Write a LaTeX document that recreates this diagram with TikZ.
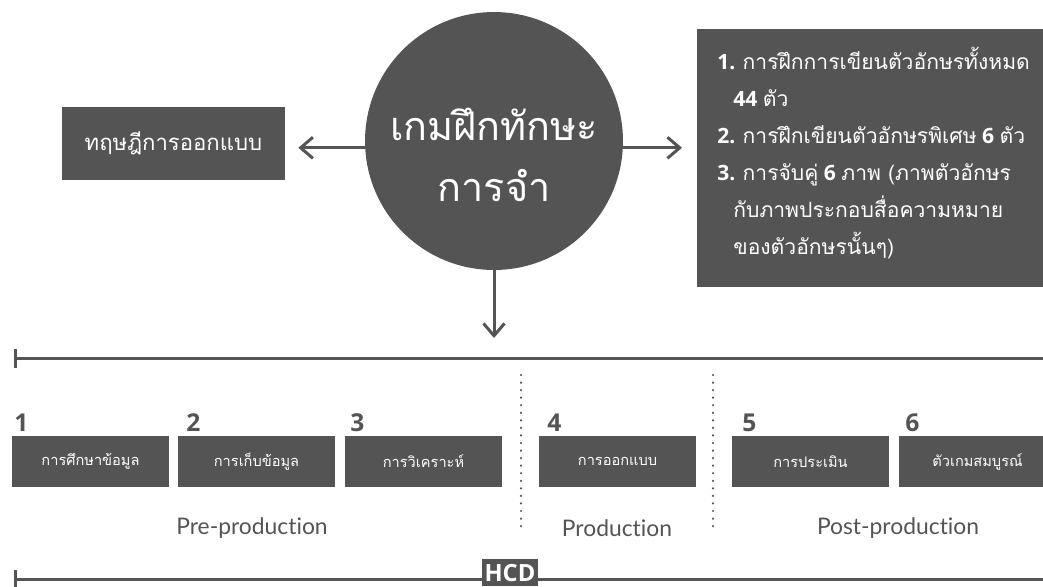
\documentclass[tikz,border=0pt]{standalone}
\usepackage{fontspec}
\setmainfont{Open Sans}
\newfontfamily\thai[Script=Thai]{Loma}
\newfontfamily\lato[Ligatures=NoCommon]{Lato}
\usetikzlibrary{arrows.meta}
\definecolor{darkgrey}{HTML}{545454}

\tikzset{
  box/.style={fill=darkgrey, text=white, inner sep=0pt},
  stepbox/.style={box, minimum width=3.14cm, minimum height=1.02cm, font=\thai\fontsize{8.3}{10}\selectfont},
  num/.style={text=darkgrey, inner sep=0pt, anchor=base west, font=\bfseries\fontsize{14}{16}\selectfont},
  phase/.style={text=darkgrey, font=\lato\fontsize{13}{15}\selectfont},
  arr/.style={draw=darkgrey, line width=1.7pt, line cap=round, -{Straight Barb[length=7pt,width=12pt]}},
  timeline/.style={draw=darkgrey, line width=1.7pt, {Bar[width=0.38cm]}-},
  dots/.style={draw=darkgrey, line width=1.4pt, line cap=round, dash pattern=on 0pt off 4.3pt}
}

\begin{document}
\begin{tikzpicture}[x=0.02cm, y=-0.02cm]
        \useasboundingbox (0,0) rectangle (1043,586);

        \node[circle, fill=darkgrey, minimum size=5.16cm, inner sep=0pt] (game) at (494,141) {};
        \node[text=white, align=center, font=\thai\fontsize{22.5}{35}\selectfont] (gametitle) at (494,155) {เกมฝึกทักษะ\\การจำ};
        \node[box, minimum width=4.46cm, minimum height=1.46cm, font=\thai\fontsize{12.6}{15}\selectfont] (theory) at (173.5,143.5) {ทฤษฎีการออกแบบ};
        \node[box, minimum width=7.3cm, minimum height=5.16cm, anchor=north west] (goals) at (697,29) {};
        \node[text=white, inner sep=0pt, anchor=north west, align=left, font=\fontsize{12}{21}\selectfont] (goaltext) at (717,47) {%
          \textbf{1.} {\thai การฝึกการเขียนตัวอักษรทั้งหมด}\\
          \hspace*{0.32cm}\textbf{44} {\thai ตัว}\\
          \textbf{2.} {\thai การฝึกเขียนตัวอักษรพิเศษ} \textbf{6} {\thai ตัว}\\
          \textbf{3.} {\thai การจับคู่} \textbf{6} {\thai ภาพ (ภาพตัวอักษร}\\
          \hspace*{0.32cm}{\thai กับภาพประกอบสื่อความหมาย}\\
          \hspace*{0.32cm}{\thai ของตัวอักษรนั้นๆ)}};

        \coordinate (top1) at (14,358);
        \coordinate (top2) at (1043,358);
        \coordinate (bot1) at (14,579);
        \coordinate (bot2) at (1043,579);

        \draw[arr, shorten >=0.26cm] (game.183) -- (theory.east |- game.183);
        \draw[arr, shorten >=0.3cm] (game.-3) -- (goals.west |- game.-3);
        \draw[arr, shorten >=0.4cm] (game.south) -- (game.south |- top1);

        \draw[timeline] (top1) -- (top2);
        \draw[timeline] (bot1) -- (bot2);
        \node[box, minimum width=1.12cm, minimum height=0.54cm, text depth=0pt, anchor=north, font=\bfseries\fontsize{13.5}{15}\selectfont] (hcd) at (510,559) {HCD};

        \node[stepbox] (s1) at (90.5,461.5) {การศึกษาข้อมูล};
        \node[stepbox] (s2) at (256.5,461.5) {การเก็บข้อมูล};
        \node[stepbox] (s3) at (423.5,461.5) {การวิเคราะห์};
        \node[stepbox] (s4) at (617.5,461.5) {การออกแบบ};
        \node[stepbox] (s5) at (810.5,461.5) {การประเมิน};
        \node[stepbox] (s6) at (977.5,461.5) {ตัวเกมสมบูรณ์};

        \node[num] (n1) at (14,431) {1};
        \node[num] (n2) at (186,431) {2};
        \node[num] (n3) at (350,431) {3};
        \node[num] (n4) at (547,431) {4};
        \node[num] (n5) at (742,431) {5};
        \node[num] (n6) at (905,431) {6};

        \draw[dots] (521,375) -- (521,530);
        \draw[dots] (713,375) -- (713,530);

        \node[phase] (pre) at (252,528) {Pre-production};
        \node[phase] (prod) at (617,528) {Production};
        \node[phase] (post) at (898,528) {Post-production};
        % \node[phase] (hcdtext) at (510,600) {};
\end{tikzpicture}
\end{document}
